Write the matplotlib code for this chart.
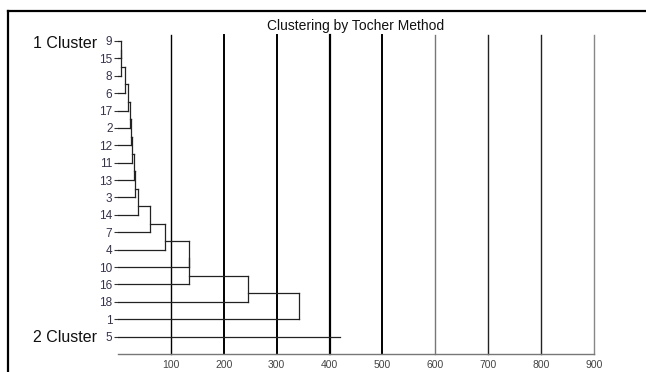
import matplotlib.pyplot as plt
from matplotlib.lines import Line2D

plt.rcParams['font.family'] = ['Liberation Sans', 'DejaVu Sans']

# leaf order top to bottom
labels = ['9', '15', '8', '6', '17', '2', '12', '11', '13', '3', '14',
          '7', '4', '10', '16', '18', '1', '5']
# height at which each leaf (after the first) joins cluster 1
heights = [5, 5, 14, 19, 22, 24, 27, 31, 33, 38, 61, 89, 135, 135, 246, 343]
# cluster 2 (leaf '5') line length
height_c2 = 420
cluster_names = ['1 Cluster', '2 Cluster']
xticks = [100, 200, 300, 400, 500, 600, 700, 800, 900]

W, H = 646, 372
fig = plt.figure(figsize=(W / 100, H / 100), dpi=100)
ax = fig.add_axes([118 / W, 1 - 354 / H, (594 - 118) / W, (354 - 35) / H])

lc = '#222222'
lw = 0.9

# cluster 1 drawn as chained merges; link leaves half a row above the new leaf
cur_pos, cur_h = 0, 0
for i, h in enumerate(heights, start=1):
    if i == 1:
        ax.plot([0, h], [0, 0], color=lc, lw=lw)
    else:
        ax.plot([cur_h, h], [cur_pos, cur_pos], color=lc, lw=lw)
    ax.plot([0, h], [i, i], color=lc, lw=lw)
    ax.plot([h, h], [cur_pos, i], color=lc, lw=lw)
    cur_pos = i - 0.5
    cur_h = h

# cluster 2
n = len(labels)
ax.plot([0, height_c2], [n - 1, n - 1], color=lc, lw=lw)

# vertical grid lines
grid_w = [1.0, 1.4, 1.4, 1.6, 1.4, 1.0, 1.0, 1.0, 1.0]
grid_c = ['black', 'black', 'black', 'black', 'black', '#777777', '#222222',
          '#222222', '#888888']
for x, w, c in zip(xticks, grid_w, grid_c):
    ax.plot([x, x], [-0.35, n], color=c, lw=w, zorder=0, clip_on=False)

ax.set_xlim(0, 900)
ax.set_ylim(n, -0.345)
ax.set_xticks(xticks)
ax.set_xticklabels([str(x) for x in xticks], fontsize=7.5, color='#444444')
ax.tick_params(axis='x', length=0, pad=4)
ax.set_yticks(range(n))
ax.set_yticklabels(labels, fontsize=8.5, color='#38334a')
ax.tick_params(axis='y', length=3, width=0.8, color='#333333', pad=1)
for s in ['top', 'right', 'left']:
    ax.spines[s].set_visible(False)
ax.spines['bottom'].set_color('#777777')
ax.spines['bottom'].set_linewidth(1.0)

fig.text(356 / W, 1 - 26 / H, 'Clustering by Tocher Method', ha='center',
         va='center', fontsize=10, color='#111111')
fig.text(97 / W, 1 - 43 / H, cluster_names[0], ha='right', va='center',
         fontsize=11.5, color='#111111')
fig.text(97 / W, 1 - 337 / H, cluster_names[1], ha='right', va='center',
         fontsize=11.5, color='#111111')

# outer frame on left and top
fig.add_artist(Line2D([8 / W, 8 / W], [0, 1 - 11 / H], color='black', lw=1.6,
                      transform=fig.transFigure))
fig.add_artist(Line2D([8 / W, 1], [1 - 11 / H, 1 - 11 / H], color='black', lw=1.6,
                      transform=fig.transFigure))

fig.savefig('out.png', dpi=100)
